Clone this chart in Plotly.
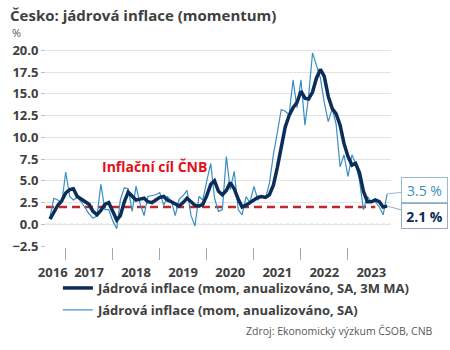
import plotly.graph_objects as go
import pandas as pd

# ---- data ----
start_month = "2016-09-01"
ma3 = [0.6, 1.5, 2.2, 2.7,
       3.6, 4.0, 4.1, 3.2, 2.9, 2.6, 2.3, 1.5, 1.1, 1.6, 2.3, 2.5,
       1.5, 0.5, 1.0, 2.6, 3.7, 3.2, 2.8, 2.9, 3.0, 2.6, 2.5, 2.8,
       3.1, 3.2, 2.8, 2.6, 2.4, 2.1, 2.5, 3.0, 2.6, 2.2, 2.1, 2.3,
       3.3, 4.6, 5.0, 3.8, 3.4, 3.9, 4.8, 4.1, 2.9, 2.0, 2.2, 2.5,
       2.8, 3.1, 3.2, 3.1, 3.4, 4.5, 6.5, 9.0, 11.2, 12.5, 13.4, 14.0,
       15.3, 14.5, 14.4, 15.2, 16.8, 17.8, 17.0, 14.7, 13.3, 12.7, 11.4, 9.3,
       7.8, 6.8, 7.0, 5.9, 3.8, 2.6, 2.6, 2.8, 2.6, 2.0, 2.1]
sa = [0.9, 3.0, 2.8, 2.4,
      6.0, 3.2, 2.8, 3.1, 2.6, 1.9, 1.2, 0.7, 1.0, 4.6, 1.7, 1.7,
      0.4, -0.5, 2.8, 4.2, 4.1, 1.5, 4.4, 2.4, 1.0, 3.2, 3.3, 3.4,
      3.65, 2.2, 3.2, 2.7, 1.0, 2.9, 3.3, 3.9, 1.0, -0.2, 3.2, 2.8,
      5.0, 7.0, 3.0, 1.5, 1.7, 7.8, 4.0, 6.1, 1.7, 1.1, 3.2, 2.5,
      4.35, 2.8, 3.2, 3.0, 4.7, 8.0, 10.5, 13.2, 13.0, 12.6, 16.6, 13.4,
      16.6, 11.4, 14.7, 19.7, 18.3, 16.8, 14.0, 11.8, 13.3, 11.5, 6.6, 8.0,
      5.5, 8.0, 7.0, 5.0, 1.7, 3.2, 2.6, 2.6, 2.0, 1.1, 3.5]
target = 2.0
target_dates = ["2016-08-01", "2023-08-01"]
year_labels = ["2016", "2017", "2018", "2019", "2020", "2021", "2022", "2023"]
name_ma = "Jádrová inflace (mom, anualizováno, SA, 3M MA)"
name_sa = "Jádrová inflace (mom, anualizováno, SA)"

dates = pd.date_range(start_month, periods=len(ma3), freq="MS")

FONT = "Open Sans"
DARK = "#404040"
NAVY = "#0c2c5a"
TEAL = "#3a8fc0"
RED_LINE = "#c0282d"
RED_TXT = "#e3101a"

fig = go.Figure()
fig.add_trace(go.Scatter(x=target_dates, y=[target, target], mode="lines",
                         line=dict(color=RED_LINE, width=2.5, dash="8px,5px"),
                         showlegend=False, hoverinfo="skip"))
fig.add_trace(go.Scatter(x=dates, y=sa, mode="lines", name=name_sa,
                         line=dict(color=TEAL, width=1.2), legendgroup="b",
                         legendrank=2))
fig.add_trace(go.Scatter(x=dates, y=ma3, mode="lines", name=name_ma,
                         line=dict(color=NAVY, width=3.5), legendgroup="a",
                         legendrank=1))

# tick label positions: mid-year, first year centred in its partial span
label_pos = ["2016-09-22"] + [f"{y}-07-01" for y in year_labels[1:]]
year_starts = [f"{y}-01-01" for y in year_labels[1:]]

fig.update_xaxes(
    type="date", range=["2016-08-01", "2023-12-01"],
    tickmode="array", tickvals=label_pos, ticktext=year_labels,
    ticks="outside", ticklen=13, tickcolor="rgba(0,0,0,0)",
    showgrid=False, showline=False, zeroline=False,
    tickfont=dict(family=FONT, size=13, color=DARK, weight="bold"),
    minor=dict(tickmode="array", tickvals=year_starts, ticks="outside",
               ticklen=12, tickwidth=1, tickcolor="#a6a6a6", showgrid=False),
)
fig.update_yaxes(
    range=[-2.6, 20.15], tickmode="array",
    tickvals=[-2.5, 0, 2.5, 5, 7.5, 10, 12.5, 15, 17.5, 20],
    tickformat=".1f", ticks="outside", ticklen=4, tickcolor="#bfbfbf",
    showgrid=True, gridcolor="#e3e3e3", gridwidth=1, zeroline=False,
    showline=False,
    tickfont=dict(family=FONT, size=13, color=DARK, weight="bold"),
)

# zero line dotted
fig.add_shape(type="line", xref="paper", yref="y", x0=0, x1=1, y0=0, y1=0,
              line=dict(color="#ffffff", width=1.5), layer="below")
fig.add_shape(type="line", xref="paper", yref="y", x0=0, x1=1, y0=0, y1=0,
              line=dict(color="#7f7f7f", width=1, dash="dot"), layer="below")

fig.add_annotation(x="2018-11-25", y=6.7, text="Inflační cíl ČNB", showarrow=False,
                   font=dict(family=FONT, size=14, color=RED_TXT, weight="bold"))

# callouts for last values
fig.add_annotation(x=dates[-1], y=sa[-1], text=f"{sa[-1]:.1f} %", showarrow=True,
                   arrowhead=0, arrowcolor="#9bbbd0", arrowwidth=1,
                   ax=37, ay=-4, width=43, height=22, borderpad=1,
                   bordercolor="#9bbbd0", borderwidth=1, bgcolor="white",
                   font=dict(family=FONT, size=14, color=TEAL))
fig.add_annotation(x=dates[-1], y=ma3[-1], text=f"{ma3[-1]:.1f} %", showarrow=True,
                   arrowhead=0, arrowcolor="#9aa9bd", arrowwidth=1,
                   ax=37, ay=10, width=43, height=22, borderpad=1,
                   bordercolor="#9aa9bd", borderwidth=1, bgcolor="white",
                   font=dict(family=FONT, size=14, color=NAVY, weight="bold"))

# title, unit, source
fig.add_annotation(xref="paper", yref="paper", x=-43/348, y=1 + (49 - 15) / 198,
                   xanchor="left", yanchor="middle", xshift=5,
                   text="Česko: jádrová inflace (momentum)", showarrow=False,
                   font=dict(family=FONT, size=15, color=DARK, weight="bold"))
fig.add_annotation(xref="paper", yref="paper", x=-43/348, y=1 + (49 - 32) / 198,
                   xanchor="left", yanchor="middle", xshift=7,
                   text="%", showarrow=False,
                   font=dict(family=FONT, size=11, color="#595959"))
fig.add_annotation(xref="paper", yref="paper", x=(435 - 43) / 348, y=(247 - 331) / 198,
                   xanchor="right", yanchor="middle",
                   text="Zdroj: Ekonomický výzkum ČSOB, CNB", showarrow=False,
                   font=dict(family=FONT, size=10.5, color="#595959"))

fig.update_layout(
    width=450, height=350,
    margin=dict(l=43, r=59, t=49, b=103),
    plot_bgcolor="white", paper_bgcolor="white",
    font=dict(family=FONT, color=DARK),
    legend=dict(x=(55 - 43) / 348, y=(247 - 273) / 198, xanchor="left", yanchor="top",
                orientation="v", traceorder="grouped", tracegroupgap=2,
                bgcolor="rgba(0,0,0,0)",
                font=dict(family=FONT, size=13, color=DARK, weight="bold")),
    showlegend=True,
)

fig.write_html("out.html")
